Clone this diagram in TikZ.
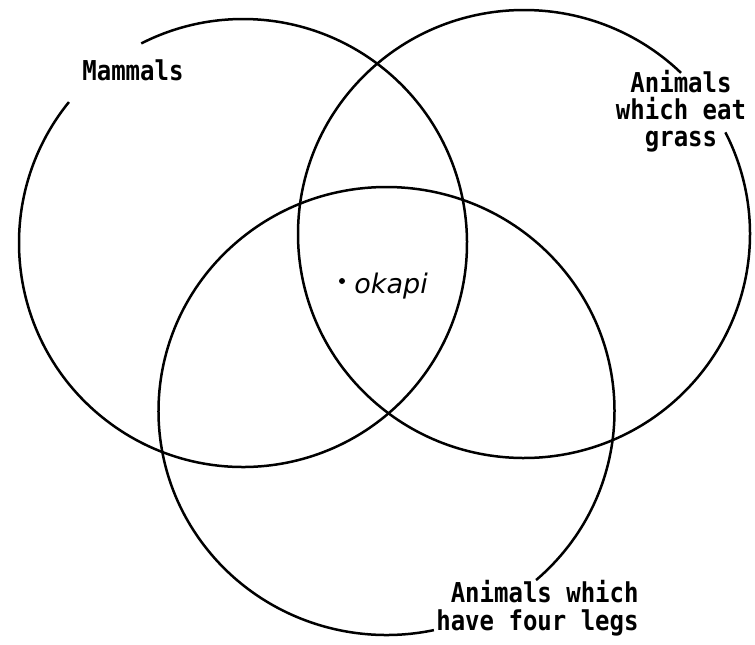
\documentclass[tikz,border=0pt]{standalone}
\usepackage{graphicx}
\usepackage{fontspec}
\newfontfamily\labelfont{DejaVu Sans Mono}
\newfontfamily\handfont{DejaVu Sans}
\newcommand{\tallt}[1]{\scalebox{1}[1.14]{#1}}
\begin{document}
\begin{tikzpicture}[x=0.5pt,y=0.5pt,
  ring/.style={line width=1.25pt, black},
  setlabel/.style={font=\labelfont\bfseries\fontsize{12}{13}\selectfont, inner sep=0pt},
  handlabel/.style={font=\handfont\itshape\fontsize{13.5}{15}\selectfont, inner sep=0pt}]
\useasboundingbox (0,0) rectangle (755,-644);
% centres of the three sets
\coordinate (cL) at (243,-243);
\coordinate (cR) at (524,-234);
\coordinate (cB) at (386.5,-411);
% rings, each broken where its label sits
\draw[ring] ([shift={(141:112pt)}]cL) arc[start angle=141, end angle=477, radius=112pt];
\draw[ring] ([shift={(46:113pt and 112pt)}]cR) arc[start angle=46, end angle=387, x radius=113pt, y radius=112pt];
\draw[ring] ([shift={(311:114pt and 112pt)}]cB) arc[start angle=311, end angle=642, x radius=114pt, y radius=112pt];
% labels
\node[setlabel, anchor=base west] (mammals) at (82,-80) {\tallt{Mammals}};
\node[setlabel, anchor=base] (grassA) at (681,-92) {\tallt{Animals}};
\node[setlabel, anchor=base] (grassB) at (681,-119) {\tallt{which eat}};
\node[setlabel, anchor=base] (grassC) at (681,-146) {\tallt{grass}};
\node[setlabel, anchor=base east] (legsA) at (639,-602) {\tallt{Animals which}};
\node[setlabel, anchor=base east] (legsB) at (639,-630) {\tallt{have four legs}};
\node[circle, fill, inner sep=0pt, minimum size=3pt] (okapidot) at (342,-281) {};
\node[handlabel, anchor=base west] (okapi) at (354,-293) {okapi};
\end{tikzpicture}
\end{document}
